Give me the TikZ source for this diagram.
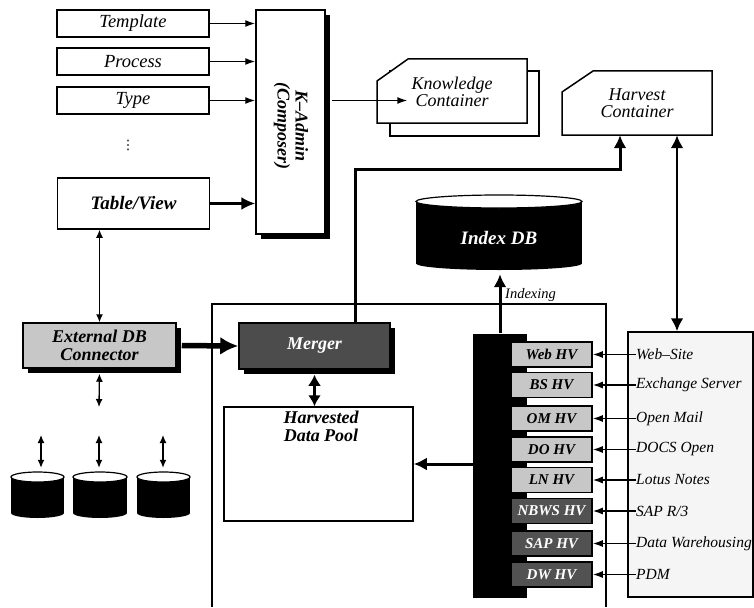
\documentclass[tikz,border=0pt]{standalone}
\usepackage{fontspec}
\setmainfont{Liberation Serif}
\newfontfamily\symfont{DejaVu Sans}
\usetikzlibrary{arrows.meta, shadows}
\definecolor{hvlight}{gray}{0.78}
\definecolor{hvdark}{gray}{0.32}
\definecolor{mergergray}{gray}{0.30}
\definecolor{sourcegray}{gray}{0.96}
\tikzset{
  lbl/.style={font=\fontsize{18}{17}\selectfont\itshape, align=center, inner sep=0pt},
  boldlbl/.style={font=\fontsize{18}{18}\selectfont\bfseries\itshape, align=center, inner sep=0pt},
  srclbl/.style={font=\fontsize{15.5}{18}\selectfont\itshape, anchor=west, inner sep=0pt},
  inbox/.style={draw=black, line width=1.5pt, fill=white, minimum width=152pt, font=\fontsize{18.5}{18}\selectfont\itshape, inner sep=0pt},
  hvbox/.style={draw=black, line width=1.5pt, fill=#1, minimum width=81pt, minimum height=25pt, inner sep=0pt, font=\fontsize{15}{18}\selectfont\bfseries\itshape},
  blkshadow/.style={drop shadow={shadow xshift=5pt, shadow yshift=-5pt, fill=black, opacity=1}},
  thin arr/.style={-{Latex[length=10pt,width=7pt]}, line width=1.4pt},
  dbl arr/.style={{Latex[length=8pt,width=7pt]}-{Latex[length=8pt,width=7pt]}, line width=1.3pt},
  thick arr/.style={-{Latex[length=13pt,width=13pt]}, line width=3pt}
}
% name, centre x, centre y, width, height, end radius
\newcommand{\dbdrum}[6]{
  \begin{scope}[shift={(#2,#3)}]
    \fill[black] (-#4/2,-#5/2+#6) rectangle (#4/2,#5/2-#6);
    \fill[black] (0,#5/2-#6) ellipse [x radius=#4/2, y radius=#6];
    \draw[line width=1.2pt, fill=white] (0,-#5/2+#6) ellipse [x radius=#4/2, y radius=#6];
    \node[minimum width=#4pt, minimum height=#5pt, inner sep=0pt] (#1) at (0,0) {};
  \end{scope}
}
\begin{document}
\begin{tikzpicture}[x=1pt,y=-1pt]
  \useasboundingbox (0,0) rectangle (754,607);
  % input tables
  \node[inbox, minimum height=27pt] (template) at (133,23.5) {Template};
  \node[inbox, minimum height=27pt] (process) at (133,61.5) {Process};
  \node[inbox, minimum height=27pt] (type) at (133,100.5) {Type};
  \node[inner sep=0pt, font=\fontsize{13}{13}\selectfont\symfont] (vdots) at (128,145) {⋮};
  \node[inbox, minimum height=51pt, font=\fontsize{19}{18}\selectfont\bfseries\itshape] (tabview) at (133.5,203.5) {Table/View};
  \node[draw=black, line width=1.5pt, fill=white, minimum width=69pt, minimum height=224pt, blkshadow] (kadmin) at (290.5,122) {};
  \node[boldlbl, rotate=-90] (kadminlbl) at (291,126) {K--Admin\\(Composer)};
  % containers
  \draw[line width=1.5pt, fill=white] (390,71) -- (539,71) -- (539,136) -- (390,136) -- cycle;
  \draw[line width=1.5pt, fill=white] (408,59) -- (527,59) -- (527,123) -- (377,123) -- (377,81) -- cycle;
  \node[lbl] (know) at (452,91.5) {Knowledge\\Container};
  \draw[line width=1.5pt, fill=white] (593,71) -- (712,71) -- (712,135) -- (562,135) -- (562,92) -- cycle;
  \node[lbl, minimum width=150pt, minimum height=64pt] (harvest) at (637,103) {Harvest\\Container};
  \dbdrum{idx}{499}{232.5}{166}{75}{6.5}
  \node[boldlbl, font=\fontsize{19}{18}\selectfont\bfseries\itshape, text=white] (idxlbl) at (499,238) {Index DB};
  % harvest system frame
  \draw[line width=1.6pt] (212,607) -- (212,304) -- (606,304) -- (606,607);
  \node[srclbl, font=\fontsize{14.5}{14}\selectfont\itshape] (indexing) at (505,295) {Indexing};
  \node[draw=black, line width=1.5pt, fill=hvlight, minimum width=153pt, minimum height=45pt, blkshadow, boldlbl] (extconn) at (99.5,345.5) {External DB\\Connector};
  \node[draw=black, line width=1.5pt, fill=mergergray, minimum width=151pt, minimum height=46pt, blkshadow, text=white, boldlbl] (merger) at (314.5,346) {Merger};
  \node[draw=black, line width=1.5pt, fill=white, minimum width=189pt, minimum height=114pt] (pool) at (318.5,464) {};
  \node[boldlbl] (poollbl) at (321,426) {Harvested\\Data Pool};
  \node[fill=black, minimum width=54pt, minimum height=264pt, inner sep=0pt] (hvbar) at (500,465.5) {};
  % sources
  \node[draw=black, line width=1.5pt, fill=sourcegray, minimum width=125pt, minimum height=265pt, inner sep=0pt] (srcbox) at (690.5,464.5) {};
  % harvesters and their sources
  \foreach \hvname/\hvtxt/\hvy/\hvcol/\hvfg/\srctxt in {
      web/Web HV/354.5/hvlight/black/Web--Site,
      bs/BS HV/385/hvlight/black/Exchange Server,
      om/OM HV/418.5/hvlight/black/Open Mail,
      do/DO HV/449.5/hvlight/black/DOCS Open,
      ln/LN HV/480/hvlight/black/Lotus Notes,
      nbws/NBWS HV/511/hvdark/white/{SAP R/3},
      sap/SAP HV/543.5/hvdark/white/Data Warehousing,
      dw/DW HV/574.5/hvdark/white/PDM} {
    \node[hvbox=\hvcol, text=\hvfg] (\hvname) at (551.5,\hvy) {\hvtxt\hspace{8pt}};
    \node[srclbl] (\hvname src) at (636,\hvy) {\srctxt};
    \draw[thin arr] (\hvname src.west) -- (\hvname.east);
  }
  % connectors
  \draw[thin arr] (template.east) -- (template.east -| kadmin.west);
  \draw[thin arr] (process.east) -- (process.east -| kadmin.west);
  \draw[thin arr] (type.east) -- (type.east -| kadmin.west);
  \draw[-{Latex[length=14pt,width=13pt]}, line width=2.4pt] (tabview.east) -- (tabview.east -| kadmin.west);
  \draw[thin arr, shorten <=6pt, shorten >=4pt] (type.east -| kadmin.east) -- (type.east -| know.west);
  \coordinate (hbend) at (620,169);
  \draw[thick arr] ([xshift=40.5pt]merger.north) |- (hbend) -- (hbend |- harvest.south);
  \draw[{Latex[length=13pt,width=13pt]}-{Latex[length=13pt,width=13pt]}, line width=2.6pt] ([xshift=40pt]harvest.south) -- ([xshift=40pt]harvest.south |- srcbox.north);
  \draw[thick arr, shorten >=4pt] (hvbar.north) -- (hvbar.north |- idx.south);
  \draw[dbl arr] (extconn.north) -- (extconn.north |- tabview.south);
  \coordinate (extdn) at (99,407);
  \draw[dbl arr, shorten <=5pt] (extconn.south) -- (extdn);
  \draw[-{Latex[length=18pt,width=18pt]}, line width=5.5pt, shorten <=5pt] (extconn.east) -- (merger.west);
  \draw[{Latex[length=11pt,width=13pt]}-{Latex[length=11pt,width=13pt]}, line width=2.8pt, shorten <=5pt] (merger.south) -- (merger.south |- pool.north);
  \draw[thick arr] (hvbar.west |- pool.east) -- (pool.east);
  % source databases
  \dbdrum{db1}{37.5}{495}{53}{46}{5}
  \dbdrum{db2}{100}{495}{54}{46}{5}
  \dbdrum{db3}{163.5}{495}{53}{46}{5}
  \coordinate (dbin1) at (41,435);
  \coordinate (dbin2) at (99,435);
  \coordinate (dbin3) at (163,435);
  \foreach \dbi in {1,2,3}
    \draw[dbl arr, shorten >=4pt] (dbin\dbi) -- (dbin\dbi |- db\dbi.north);
\end{tikzpicture}
\end{document}
